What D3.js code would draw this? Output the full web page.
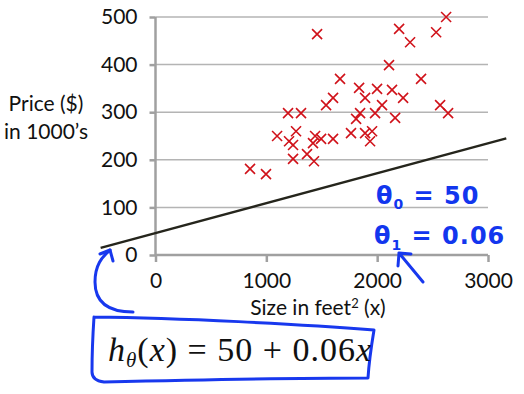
<!DOCTYPE html>
<html>
<head>
<meta charset="utf-8">
<script src="https://cdn.jsdelivr.net/npm/d3@7"></script>
<style>
  body { margin: 0; background: #fff; }
  svg { display: block; }
  .lbl { font-family: Lato, "Open Sans", sans-serif; fill: #111; }
  .hand { font-family: "DejaVu Sans", sans-serif; fill: #1236ee; font-weight: bold; }
</style>
</head>
<body>
<div class="chart"></div>
<script>
// house sizes (feet^2) and prices (1000's of $)
var sizes  = [1458, 2198, 2297, 2532, 2622, 2107, 2396, 1665, 1837, 1999,
              2134, 2234, 1891, 1602, 1539, 2044, 2568, 2640, 1196, 1313,
              1846, 1981, 1810, 2162, 1097, 1268, 1205, 1241, 1440, 1421,
              1494, 1602, 1764, 1891, 1954, 1936, 1241, 1367, 1430, 853, 997];
var prices = [464, 475, 447, 468, 500, 399, 370, 370, 351, 349,
              347, 330, 330, 330, 315, 315, 315, 298, 298, 298,
              298, 298, 286, 288, 250, 260, 239, 231, 250, 235,
              244, 244, 256, 256, 260, 239, 202, 212, 197, 181, 170];
var xTicks = [0, 1000, 2000, 3000];
var yTicks = [0, 100, 200, 300, 400, 500];
// hypothesis line as drawn (end points)
var lineX = [-495, 3165];
var lineY = [15, 245];

var w = 524, h = 394;

var svg = d3.select(".chart").append("svg")
    .attr("width", w).attr("height", h);

var x = d3.scaleLinear().domain([0, 3000]).range([155.5, 488]);
var y = d3.scaleLinear().domain([0, 500]).range([255, 17]);

// grid lines
svg.append("g").selectAll("line")
  .data(yTicks.filter(d => d > 0))
  .enter().append("line")
  .attr("x1", x(0)).attr("x2", x(3000))
  .attr("y1", d => y(d)).attr("y2", d => y(d))
  .attr("stroke", "#b4b4b4").attr("stroke-width", 1.5);

// axes
var yAxis = d3.axisLeft(y).tickValues(yTicks).tickSize(6).tickPadding(12).tickFormat(d3.format("d"));
var gy = svg.append("g").attr("transform", "translate(" + x(0) + ",0)").call(yAxis);
var xAxis = d3.axisBottom(x).tickValues(xTicks).tickSize(7).tickPadding(11).tickFormat(d3.format("d"));
var gx = svg.append("g").attr("transform", "translate(0," + y(0) + ")").call(xAxis);

[gx, gy].forEach(g => {
  g.select(".domain").attr("stroke", "#a0a0a0").attr("stroke-width", 2.5);
  g.selectAll(".tick line").attr("stroke", "#a0a0a0").attr("stroke-width", 2.5);
  g.selectAll("text").attr("class", "lbl")
    .style("font-size", "21px").attr("fill", "#111");
});
gy.select(".domain").attr("d", "M0," + y(500) + "V" + y(0));
gx.select(".domain").attr("d", "M" + x(0) + ",0H" + x(3000));

// hypothesis line
svg.append("line")
  .attr("x1", x(lineX[0])).attr("y1", y(lineY[0]))
  .attr("x2", x(lineX[1])).attr("y2", y(lineY[1]))
  .attr("stroke", "#25251c").attr("stroke-width", 2.5);

// data crosses
var s = 5;
svg.append("g").selectAll("path")
  .data(sizes)
  .enter().append("path")
  .attr("d", (d, i) => {
    var cx = x(d), cy = y(prices[i]);
    return "M" + (cx - s) + "," + (cy - s) + "L" + (cx + s) + "," + (cy + s) +
           "M" + (cx - s) + "," + (cy + s) + "L" + (cx + s) + "," + (cy - s);
  })
  .attr("stroke", "#d0121a").attr("stroke-width", 1.6).attr("fill", "none");

// axis titles
svg.append("text").attr("class", "lbl").attr("x", 46).attr("y", 111)
  .attr("text-anchor", "middle").style("font-size", "21px").text("Price ($)");
svg.append("text").attr("class", "lbl").attr("x", 46).attr("y", 139)
  .attr("text-anchor", "middle").style("font-size", "21px").text("in 1000\u2019s");

var xt = svg.append("text").attr("class", "lbl").attr("x", 318).attr("y", 315)
  .attr("text-anchor", "middle").style("font-size", "21px");
xt.append("tspan").text("Size in feet");
xt.append("tspan").attr("dy", -7).style("font-size", "13px").text("2");
xt.append("tspan").attr("dy", 7).text(" (x)");

// handwritten annotations
var blue = "#1838ee";
var t0 = svg.append("text").attr("class", "hand").attr("x", 376).attr("y", 204)
  .style("font-size", "24px").style("letter-spacing", "1px");
t0.append("tspan").text("\u03b8");
t0.append("tspan").attr("dy", 5).style("font-size", "14px").text("0");
t0.append("tspan").attr("dy", -5).text(" = 50");

var t1 = svg.append("text").attr("class", "hand").attr("x", 374).attr("y", 244)
  .style("font-size", "24px").style("letter-spacing", "1px");
t1.append("tspan").text("\u03b8");
t1.append("tspan").attr("dy", 6).style("font-size", "14px").text("1");
t1.append("tspan").attr("dy", -6).text(" = 0.06");

var hand = svg.append("g").attr("fill", "none").attr("stroke", blue)
  .attr("stroke-width", 3).attr("stroke-linecap", "round").attr("stroke-linejoin", "round");

// arrow to theta1
hand.append("path").attr("d", "M423,282 L399,253 M399,253 L398,266 M399,253 L411,254");
// curved arrow from formula to line
hand.append("path").attr("d", "M133,312 C105,312 95,300 95,282 C95,265 102,257 110,250");
hand.append("path").attr("d", "M110,250 L100,254 M110,250 L113,261");
// box around formula
hand.append("path").attr("d",
  "M94,317 C180,318 300,324 374,330 C371,348 369,362 368,378 C280,378 190,380 104,382 C96,381 92,378 92,372 C92,350 93,332 94,317");

// formula
var f = svg.append("text").attr("x", 108).attr("y", 361)
  .style("font-family", "'Liberation Serif', 'DejaVu Serif', serif")
  .style("font-size", "34px").style("letter-spacing", "1px").attr("fill", "#111");
f.append("tspan").style("font-style", "italic").text("h");
f.append("tspan").attr("dy", 6).style("font-size", "21px").style("font-style", "italic").text("\u03b8");
f.append("tspan").attr("dy", -6).text("(");
f.append("tspan").style("font-style", "italic").text("x");
f.append("tspan").text(") = 50 + 0.06");
f.append("tspan").style("font-style", "italic").text("x");
</script>
</body>
</html>
